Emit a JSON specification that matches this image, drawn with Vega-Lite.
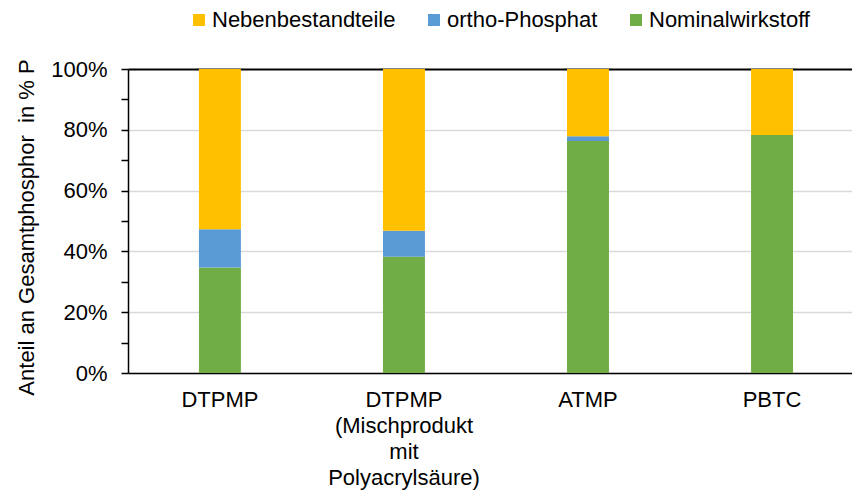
{
  "$schema": "https://vega.github.io/schema/vega-lite/v6.json",
  "width": 724,
  "height": 304,
  "autosize": {"type": "none"},
  "padding": {"left": 128, "top": 69, "right": 0, "bottom": 122},
  "background": "white",
  "config": {"font": "Liberation Sans", "view": {"stroke": null}},
  "data": {
    "values": [
      {"produkt": "DTPMP", "komponente": "Nominalwirkstoff", "anteil": 0.347, "stapel": 1},
      {"produkt": "DTPMP", "komponente": "ortho-Phosphat", "anteil": 0.126, "stapel": 2},
      {"produkt": "DTPMP", "komponente": "Nebenbestandteile", "anteil": 0.527, "stapel": 3},
      {"produkt": "DTPMP (Mischprodukt mit Polyacrylsäure)", "komponente": "Nominalwirkstoff", "anteil": 0.382, "stapel": 1},
      {"produkt": "DTPMP (Mischprodukt mit Polyacrylsäure)", "komponente": "ortho-Phosphat", "anteil": 0.086, "stapel": 2},
      {"produkt": "DTPMP (Mischprodukt mit Polyacrylsäure)", "komponente": "Nebenbestandteile", "anteil": 0.532, "stapel": 3},
      {"produkt": "ATMP", "komponente": "Nominalwirkstoff", "anteil": 0.763, "stapel": 1},
      {"produkt": "ATMP", "komponente": "ortho-Phosphat", "anteil": 0.016, "stapel": 2},
      {"produkt": "ATMP", "komponente": "Nebenbestandteile", "anteil": 0.221, "stapel": 3},
      {"produkt": "PBTC", "komponente": "Nominalwirkstoff", "anteil": 0.783, "stapel": 1},
      {"produkt": "PBTC", "komponente": "ortho-Phosphat", "anteil": 0.0, "stapel": 2},
      {"produkt": "PBTC", "komponente": "Nebenbestandteile", "anteil": 0.217, "stapel": 3}
    ]
  },
  "mark": {"type": "bar"},
  "encoding": {
    "x": {
      "field": "produkt",
      "type": "nominal",
      "sort": null,
      "scale": {"paddingInner": 0.772, "paddingOuter": 0.353, "align": 0.546},
      "axis": {
        "title": null,
        "labelAngle": 0,
        "labelFontSize": 22,
        "labelColor": "black",
        "labelPadding": 16,
        "ticks": false,
        "domainColor": "black",
        "domainWidth": 1.5,
        "labelLineHeight": 26,
        "labelLimit": 300,
        "labelExpr": "datum.value == 'DTPMP (Mischprodukt mit Polyacrylsäure)' ? ['DTPMP', '(Mischprodukt', 'mit', 'Polyacrylsäure)'] : datum.label"
      }
    },
    "y": {
      "field": "anteil",
      "type": "quantitative",
      "stack": "zero",
      "scale": {"domain": [0, 1], "nice": false},
      "axis": {
        "values": [0, 0.1, 0.2, 0.3, 0.4, 0.5, 0.6, 0.7, 0.8, 0.9, 1],
        "labelExpr": "round(datum.value * 10) % 2 == 0 ? format(datum.value, '.0%') : ''",
        "title": "Anteil an Gesamtphosphor\u00a0 in % P",
        "titleFontSize": 22,
        "titleFontWeight": "normal",
        "titleColor": "black",
        "titlePadding": 12,
        "titleY": 158,
        "labelFontSize": 22,
        "labelColor": "black",
        "labelPadding": 14,
        "tickSize": 7,
        "tickColor": "black",
        "tickWidth": 1.5,
        "domainColor": "black",
        "domainWidth": 1.5,
        "grid": true,
        "gridColor": {"condition": {"test": "datum.value >= 0.99", "value": "black"}, "value": "#D9D9D9"},
        "gridWidth": {"condition": {"test": "datum.value >= 0.99", "value": 2}, "value": 1.5},
        "gridOpacity": {"condition": {"test": "round(datum.value * 10) % 2 == 1", "value": 0}, "value": 1}
      }
    },
    "color": {
      "field": "komponente",
      "type": "nominal",
      "scale": {
        "domain": ["Nebenbestandteile", "ortho-Phosphat", "Nominalwirkstoff"],
        "range": ["#FFC000", "#5B9BD5", "#70AD47"]
      },
      "legend": {
        "orient": "none",
        "legendX": 60,
        "legendY": -60,
        "direction": "horizontal",
        "title": null,
        "symbolType": "square",
        "symbolSize": 144,
        "symbolStrokeWidth": 0,
        "labelFontSize": 22,
        "labelColor": "black",
        "labelOffset": 2,
        "columnPadding": 27,
        "labelLimit": 300
      }
    },
    "order": {"field": "stapel", "type": "quantitative"}
  }
}
